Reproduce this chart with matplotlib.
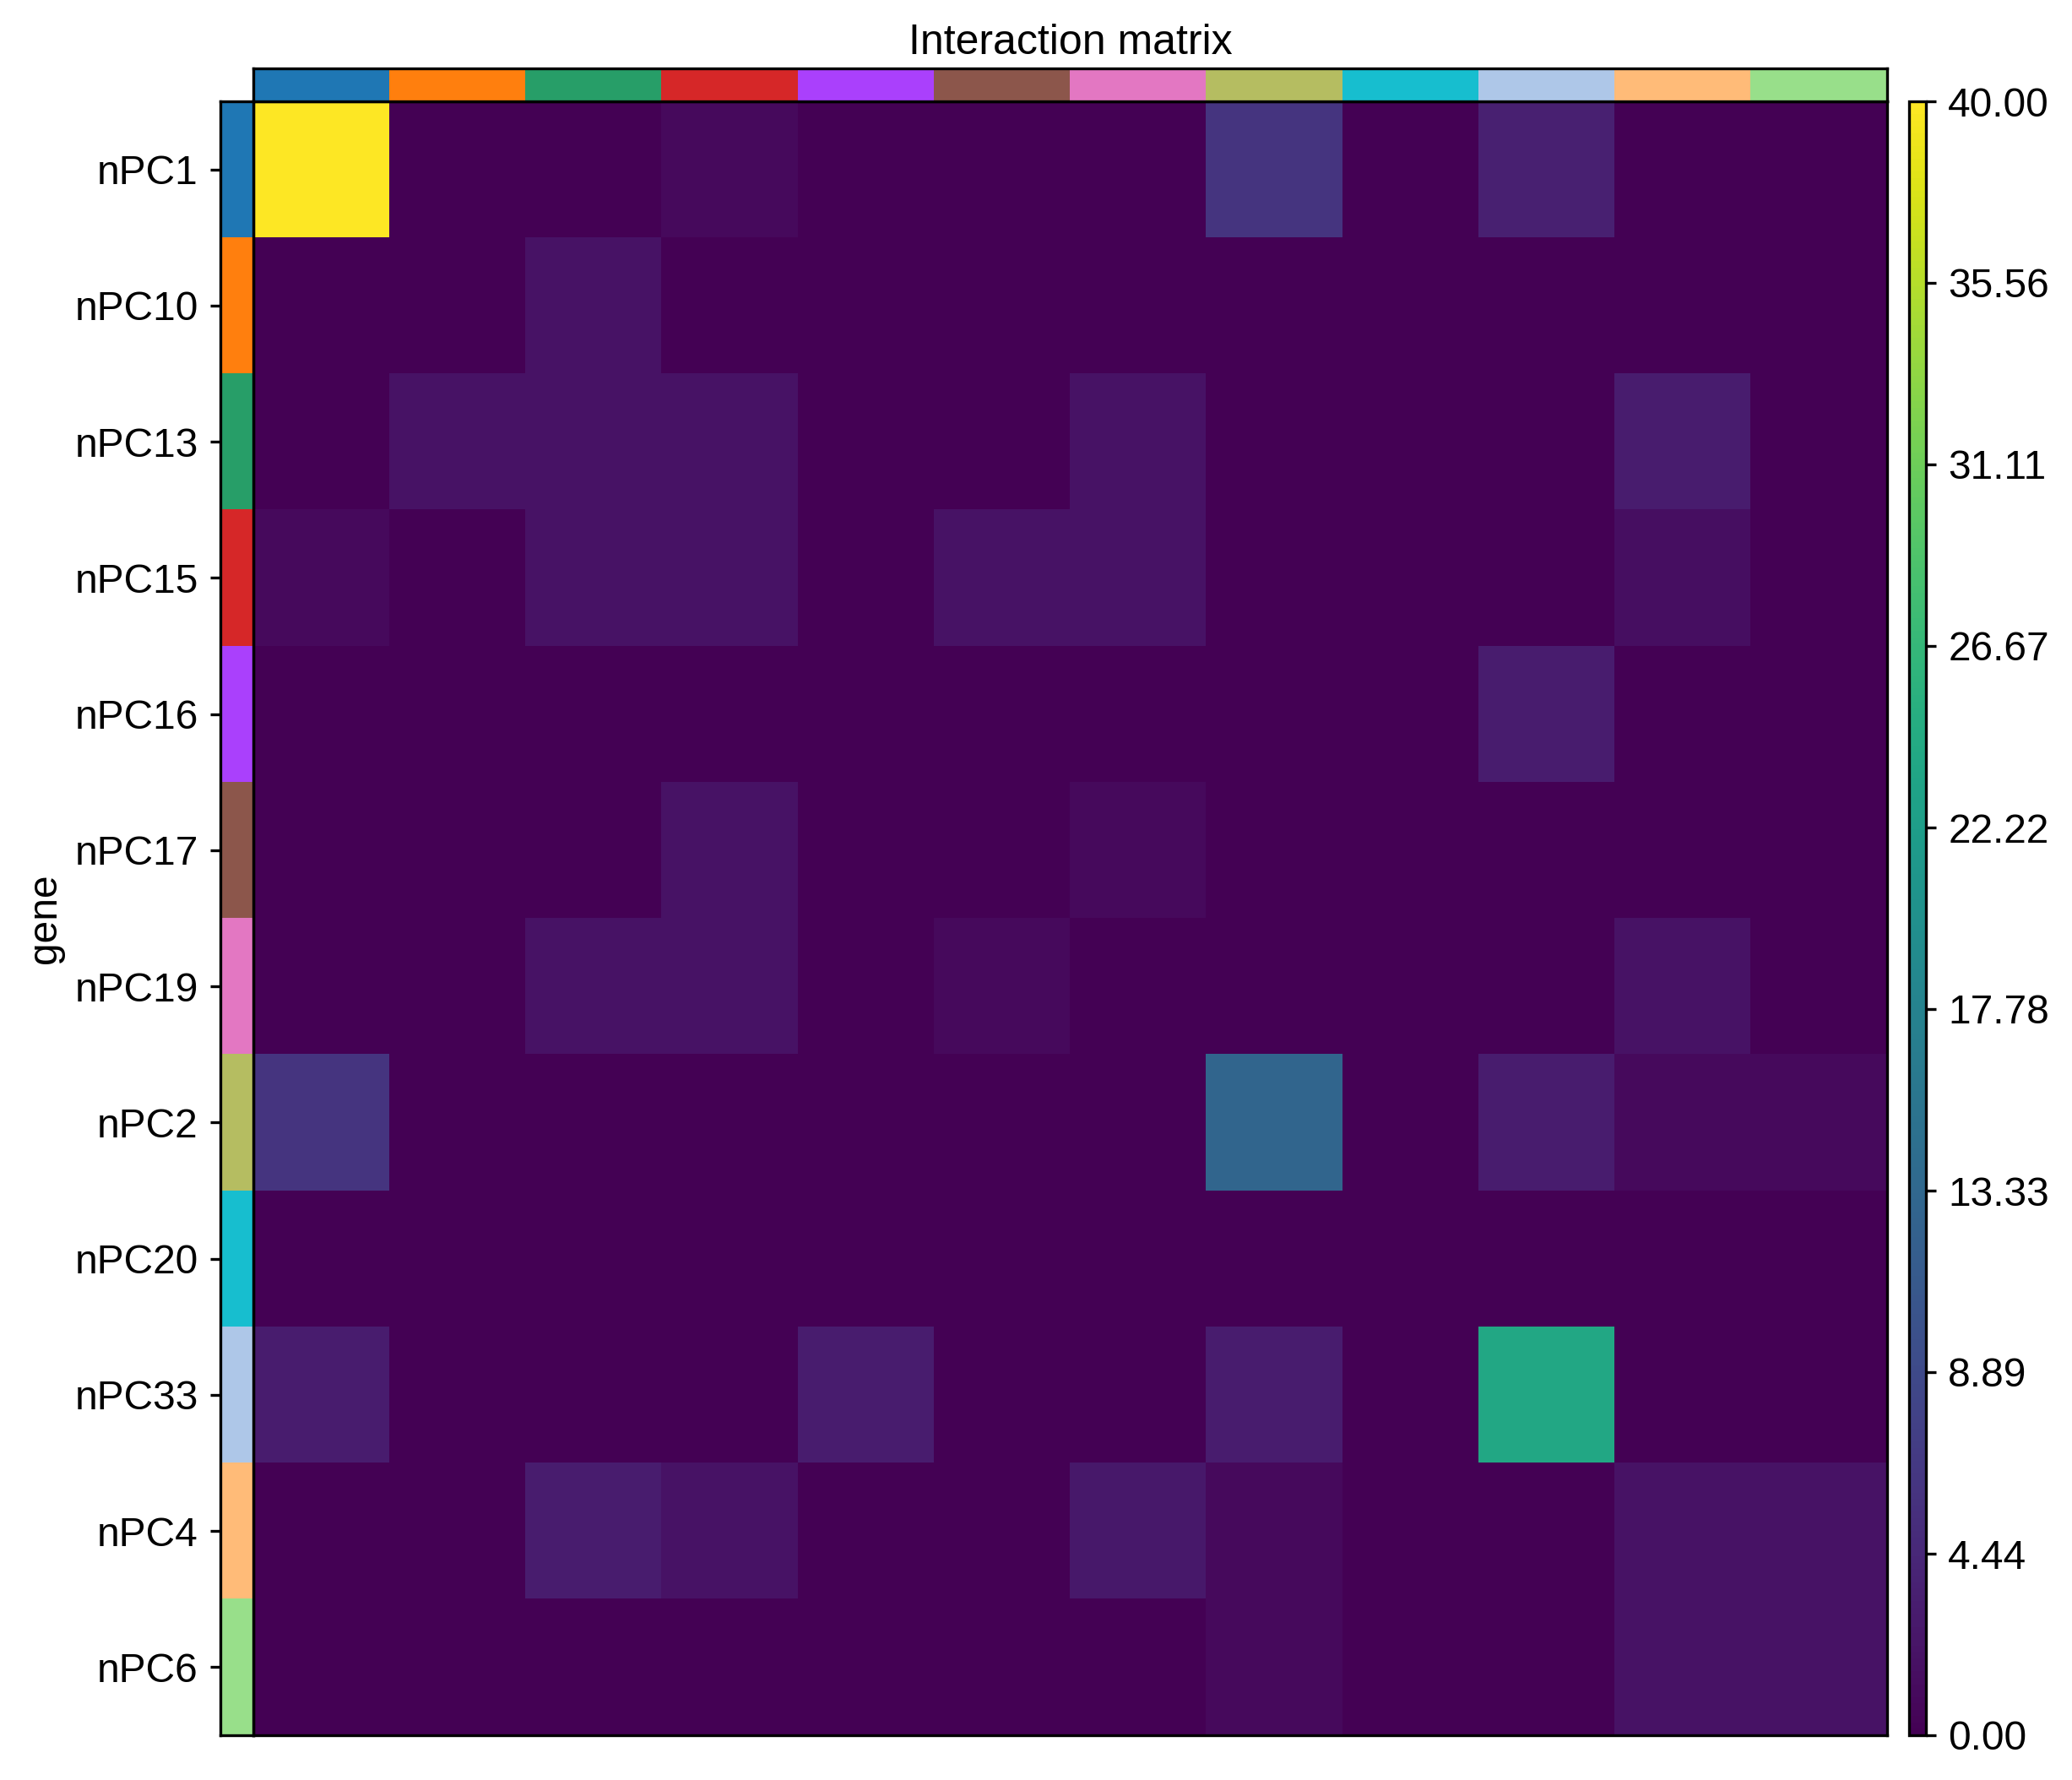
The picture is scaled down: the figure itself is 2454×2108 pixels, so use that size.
"""
Interaction matrix heatmap with category colour bars (squidpy-style).
Saves out.png.
"""
import numpy as np
import matplotlib
matplotlib.use("Agg")
import matplotlib.pyplot as plt
from matplotlib.colors import ListedColormap

plt.rcParams["font.family"] = ["Liberation Sans", "DejaVu Sans"]

clusters = ["nPC1", "nPC10", "nPC13", "nPC15", "nPC16", "nPC17",
            "nPC19", "nPC2", "nPC20", "nPC33", "nPC4", "nPC6"]
cluster_colors = ["#1f77b4", "#ff7f0e", "#279e68", "#d62728", "#aa40fc", "#8c564b",
                  "#e377c2", "#b5bd61", "#17becf", "#aec7e8", "#ffbb78", "#98df8a"]

# rows = clusters (top to bottom), columns = clusters (left to right)
row_nPC1 = [40, 0, 0, 1, 0, 0, 0, 6, 0, 3.5, 0, 0]
row_nPC10 = [0, 0, 2, 0, 0, 0, 0, 0, 0, 0, 0, 0]
row_nPC13 = [0, 2, 2, 2, 0, 0, 2, 0, 0, 0, 3, 0]
row_nPC15 = [1, 0, 2, 2, 0, 2, 2, 0, 0, 0, 1.5, 0]
row_nPC16 = [0, 0, 0, 0, 0, 0, 0, 0, 0, 3, 0, 0]
row_nPC17 = [0, 0, 0, 2, 0, 0, 1, 0, 0, 0, 0, 0]
row_nPC19 = [0, 0, 2, 2, 0, 1, 0, 0, 0, 0, 2, 0]
row_nPC2 = [6, 0, 0, 0, 0, 0, 0, 13, 0, 3, 1, 1]
row_nPC20 = [0, 0, 0, 0, 0, 0, 0, 0, 0, 0, 0, 0]
row_nPC33 = [3, 0, 0, 0, 3, 0, 0, 3, 0, 24, 0, 0]
row_nPC4 = [0, 0, 3, 2, 0, 0, 2.5, 1, 0, 0, 2, 2]
row_nPC6 = [0, 0, 0, 0, 0, 0, 0, 1, 0, 0, 2, 2]

vmin, vmax = 0, 40

matrix = np.array([row_nPC1, row_nPC10, row_nPC13, row_nPC15, row_nPC16, row_nPC17,
                   row_nPC19, row_nPC2, row_nPC20, row_nPC33, row_nPC4, row_nPC6], dtype=float)
n = len(clusters)

W, H = 2454, 2108
fig = plt.figure(figsize=(W / 300, H / 300), dpi=300)

def frac(x0, y0, x1, y1):
    # pixel box (top-left origin) -> figure fraction rect
    return [x0 / W, 1 - y1 / H, (x1 - x0) / W, (y1 - y0) / H]

ax = fig.add_axes(frac(300, 120, 2235, 2055))
ax_top = fig.add_axes(frac(300, 81, 2235, 120))
ax_left = fig.add_axes(frac(261, 120, 300, 2055))
ax_cb = fig.add_axes(frac(2261, 120, 2281, 2055))

im = ax.imshow(matrix, cmap="viridis", vmin=vmin, vmax=vmax, aspect="auto",
               interpolation="nearest")
ax.set_xticks([])
ax.set_yticks([])

cat_cmap = ListedColormap(cluster_colors)
idx = np.arange(n)
ax_top.imshow(idx[None, :], cmap=cat_cmap, aspect="auto", interpolation="nearest",
              vmin=-0.5, vmax=n - 0.5)
ax_top.set_xticks([])
ax_top.set_yticks([])
ax_top.set_title("Interaction matrix", fontsize=12, pad=4)

ax_left.imshow(idx[:, None], cmap=cat_cmap, aspect="auto", interpolation="nearest",
               vmin=-0.5, vmax=n - 0.5)
ax_left.set_xticks([])
ax_left.set_yticks(idx)
ax_left.set_yticklabels(clusters, fontsize=11.5)
ax_left.tick_params(axis="y", length=2.8, width=0.8)
ax_left.set_ylabel("gene", fontsize=11.5, labelpad=3)

for a in (ax, ax_top, ax_left):
    for s in a.spines.values():
        s.set_linewidth(0.8)

cb = fig.colorbar(im, cax=ax_cb)
cb.set_ticks(np.linspace(vmin, vmax, 10))
cb.set_ticklabels([f"{t:.2f}" for t in np.linspace(vmin, vmax, 10)])
cb.ax.tick_params(labelsize=11.5, length=2.8, width=0.8)
cb.outline.set_linewidth(0.8)

fig.savefig("out.png", dpi=300)
plt.close(fig)
print("Saved: out.png")
